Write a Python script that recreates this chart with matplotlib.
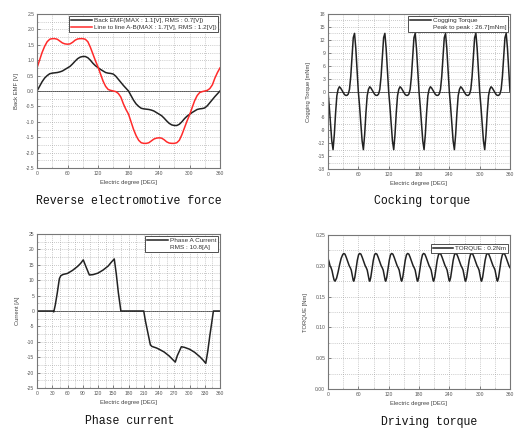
import numpy as np
import matplotlib
matplotlib.use('Agg')
import matplotlib.pyplot as plt
from matplotlib.lines import Line2D
from matplotlib.ticker import MultipleLocator, FormatStrFormatter

plt.rcParams['font.family'] = ['Liberation Sans', 'DejaVu Sans']

# ---- Back EMF (0..360 step 5 deg) ----
emf_deg = list(range(0, 361, 5))
back_emf = [0.0, 0.15, 0.3, 0.42, 0.5, 0.56, 0.58, 0.59, 0.6, 0.62, 0.65, 0.7,
            0.75, 0.8, 0.88, 0.97, 1.05, 1.1, 1.12, 1.12, 1.08, 1.0, 0.9, 0.82,
            0.76, 0.7, 0.65, 0.6, 0.58, 0.57, 0.55, 0.48, 0.38, 0.28, 0.18, 0.09,
            0.0,
            -0.15, -0.3, -0.42, -0.5, -0.56, -0.58, -0.59, -0.6, -0.62, -0.65, -0.7,
            -0.75, -0.8, -0.88, -0.97, -1.05, -1.1, -1.12, -1.12, -1.08, -1.0, -0.9,
            -0.82, -0.76, -0.7, -0.65, -0.6, -0.58, -0.57, -0.55, -0.48, -0.38,
            -0.28, -0.18, -0.09, 0.0]
line_ab = [0.75, 1.0, 1.25, 1.45, 1.6, 1.68, 1.7, 1.7, 1.68, 1.62, 1.56, 1.53,
           1.52, 1.53, 1.58, 1.65, 1.69, 1.7, 1.7, 1.68, 1.6, 1.42, 1.2, 0.98,
           0.78, 0.55, 0.32, 0.15, 0.05, 0.02, 0.0, -0.02, -0.08, -0.2, -0.42,
           -0.6, -0.75,
           -1.0, -1.25, -1.45, -1.6, -1.68, -1.7, -1.7, -1.68, -1.62, -1.56, -1.53,
           -1.52, -1.53, -1.58, -1.65, -1.69, -1.7, -1.7, -1.68, -1.6, -1.42, -1.2,
           -0.98, -0.78, -0.55, -0.32, -0.15, -0.05, -0.02, 0.0, 0.02, 0.08, 0.2,
           0.42, 0.6, 0.75]

# ---- Cogging torque: one 60 deg period, six periods ----
cog_offset = [0, 2.5, 5, 7.5, 10, 12.5, 15, 17.5, 20, 22.5, 25, 27.5,
              30, 32.5, 35, 37.5, 40, 42.5, 45, 47.5, 50, 52.5, 55, 57.5]
cog_period = [0.0, -3.5, -7.5, -11.5, -13.5, -10.0, -5.0, -1.0, 0.5, 1.1, 0.8, 0.3,
              -0.2, -0.7, -0.9, -0.9, -0.6, 0.5, 3.5, 8.0, 12.5, 13.5, 10.0, 5.0]
cog_starts = [0, 60, 120, 180, 240, 300]

# ---- Phase A current ----
cur_deg = [0, 31, 33, 36, 40, 44, 47, 52, 60, 70, 80, 86, 91, 96, 103, 110, 120,
           130, 140, 146, 152, 156, 160, 165, 210, 213, 218, 223, 226, 235, 240,
           250, 260, 266, 272, 276, 284, 290, 300, 310, 320, 327, 332, 336, 340,
           344, 347, 360]
cur_val = [0, 0, -0.3, 2, 6, 10.5, 11.5, 11.9, 12.2, 13.2, 14.5, 15.5, 16.6, 14.5,
           11.7, 11.8, 12.3, 13.3, 14.6, 15.8, 16.9, 12, 6, 0, 0, -3, -7, -11,
           -11.5, -12, -12.4, -13.3, -14.6, -15.6, -16.6, -14.5, -11.6, -11.8,
           -12.4, -13.4, -14.8, -16, -17, -13, -8, -3.5, 0, 0]

# ---- Driving torque ----
drv_head_deg = [0, 2, 4, 6, 8, 10, 12, 14, 17, 20, 23, 26, 29]
drv_head_val = [0.212, 0.207, 0.200, 0.197, 0.192, 0.184, 0.177, 0.175, 0.180,
                0.190, 0.202, 0.212, 0.218]
drv_offset = [0, 2.5, 5, 8, 11, 13, 15, 17, 19, 20, 22, 24.5, 27, 29.5]
drv_period = [0.220, 0.219, 0.214, 0.207, 0.200, 0.197, 0.193, 0.184, 0.176,
              0.175, 0.181, 0.195, 0.209, 0.218]
drv_peaks = [31, 62.6, 94.2, 125.8, 157.4, 189, 220.6, 252.2, 283.8, 315.4]
drv_tail_deg = [347, 349.5, 352, 355, 358, 360]
drv_tail_val = [0.220, 0.219, 0.214, 0.207, 0.200, 0.197]

cog_deg, cog_val = [], []
for s in cog_starts:
    cog_deg += [s + o for o in cog_offset]
    cog_val += cog_period
cog_deg.append(360)
cog_val.append(0.0)

drv_deg, drv_val = list(drv_head_deg), list(drv_head_val)
for p in drv_peaks:
    drv_deg += [p + o for o in drv_offset]
    drv_val += drv_period
drv_deg += drv_tail_deg
drv_val += drv_tail_val

W, H = 515, 429
fig = plt.figure(figsize=(W / 100, H / 100), dpi=100)
fig.patch.set_facecolor('white')


def add_axes(x0, x1, ytop, ybot):
    return fig.add_axes([x0 / W, 1 - ybot / H, (x1 - x0) / W, (ybot - ytop) / H])


def setup(ax, ylim, ystep, xstep, ylabel, yfmt, zero=True):
    ax.set_xlim(0, 360)
    ax.set_ylim(*ylim)
    ax.xaxis.set_major_locator(MultipleLocator(xstep))
    ax.xaxis.set_minor_locator(MultipleLocator(xstep / 2))
    ax.yaxis.set_major_locator(MultipleLocator(ystep))
    ax.yaxis.set_minor_locator(MultipleLocator(ystep / 2))
    ax.yaxis.set_major_formatter(FormatStrFormatter(yfmt))
    ax.grid(which='both', ls=(0, (1, 2)), color='#999999', lw=0.5)
    ax.tick_params(which='major', direction='in', length=2, width=0.5,
                   labelsize=3.6, colors='#555555', pad=2)
    ax.tick_params(which='minor', direction='in', length=1, width=0.4,
                   colors='#555555')
    for sp in ax.spines.values():
        sp.set_color('#777777')
        sp.set_linewidth(0.8)
    ax.set_xlabel('Electric degree [DEG]', fontsize=4.2, color='#444444', labelpad=3)
    ax.set_ylabel(ylabel, fontsize=4.2, color='#444444', labelpad=5)
    if zero:
        ax.axhline(0, color='#555555', lw=0.7, zorder=1)


def legend(ax, handles, labels, anchor=(1, 1)):
    leg = ax.legend(handles, labels, loc='upper right', bbox_to_anchor=anchor,
                    fontsize=4.6, frameon=True, fancybox=False, framealpha=1,
                    edgecolor='#333333', borderaxespad=0.3, borderpad=0.3,
                    labelspacing=0.25, handlelength=3.2, handletextpad=0.3)
    leg.get_frame().set_linewidth(0.6)
    for t in leg.get_texts():
        t.set_color('#333333')


blank = Line2D([], [], color='none')
cap_kw = dict(fontsize=8.3, family='Liberation Mono', ha='center', va='center',
              color='#111111')

# Reverse electromotive force
ax1 = add_axes(37, 220, 14, 168)
setup(ax1, (-2.5, 2.5), 0.5, 60, 'Back EMF [V]', '%.1f')
l1, = ax1.plot(emf_deg, back_emf, color='#222222', lw=1.1)
l2, = ax1.plot(emf_deg, line_ab, color='#ff2a2a', lw=1.1)
legend(ax1, [l1, l2], ['Back EMF(MAX : 1.1[V], RMS : 0.7[V])',
                       'Line to line A-B(MAX : 1.7[V], RMS : 1.2[V])'])
fig.text(129 / W, 1 - 201 / H, 'Reverse electromotive force', **cap_kw)

# Cogging torque
ax2 = add_axes(328, 510, 14, 169)
setup(ax2, (-18, 18), 3, 60, 'Cogging Torque [mNm]', '%d')
c1, = ax2.plot(cog_deg, cog_val, color='#222222', lw=1.1)
legend(ax2, [c1, blank], ['Cogging Torque', 'Peak to peak : 26.7[mNm]'])
fig.text(422 / W, 1 - 201 / H, 'Cocking torque', **cap_kw)

# Phase current
ax3 = add_axes(37, 220, 234, 388)
setup(ax3, (-25, 25), 5, 30, 'Current [A]', '%d')
p1, = ax3.plot(cur_deg, cur_val, color='#222222', lw=1.1)
legend(ax3, [p1, blank], ['Phase A Current', 'RMS : 10.8[A]'])
fig.text(130 / W, 1 - 421 / H, 'Phase current', **cap_kw)

# Driving torque
ax4 = add_axes(328, 510, 235, 389)
setup(ax4, (0, 0.25), 0.05, 60, 'TORQUE [Nm]', '%.2f', zero=False)
d1, = ax4.plot(drv_deg, drv_val, color='#222222', lw=1.1)
legend(ax4, [d1], ['TORQUE : 0.2Nm'], anchor=(1, 0.955))
fig.text(429 / W, 1 - 422 / H, 'Driving torque', **cap_kw)

fig.savefig('out.png', dpi=100, facecolor='white')
